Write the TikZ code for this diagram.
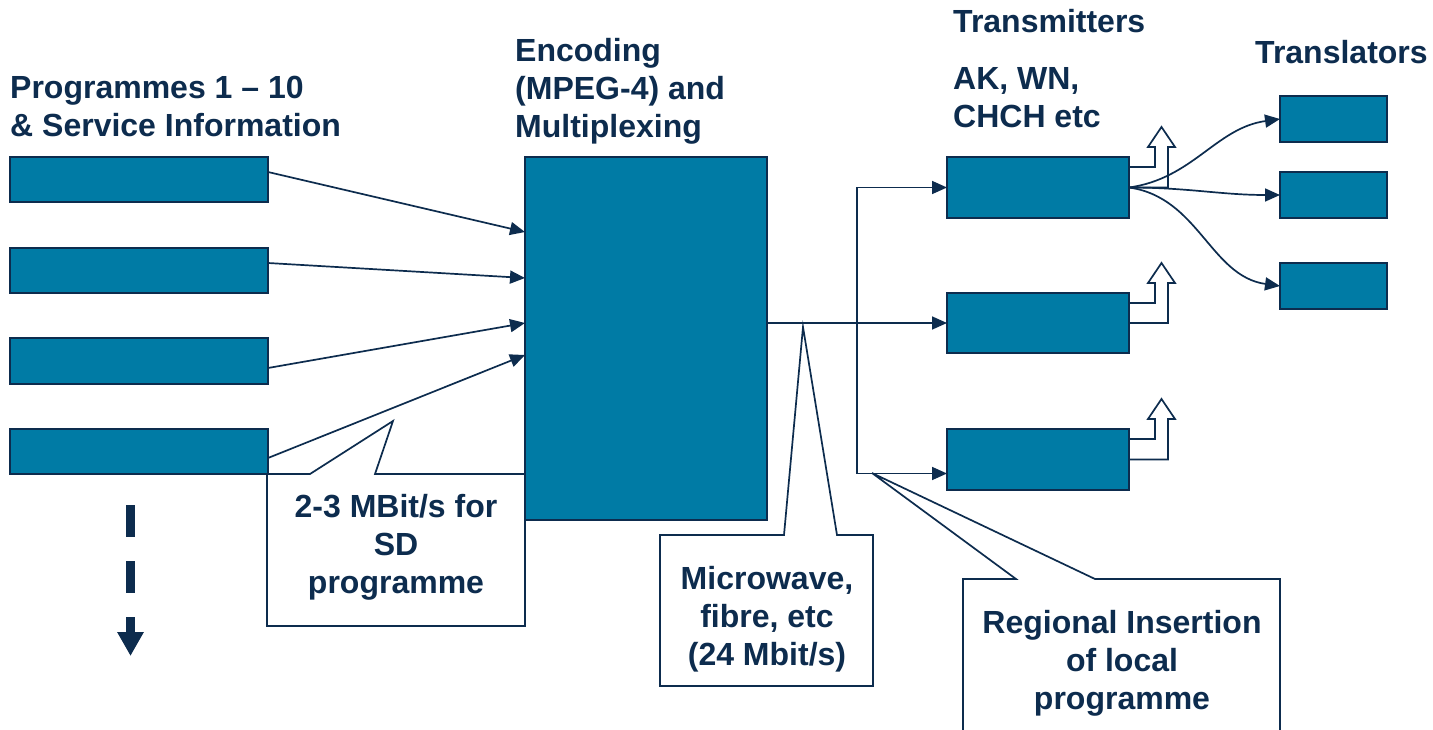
\documentclass[tikz,border=0pt]{standalone}
\usepackage{fontspec}
\setmainfont{Liberation Sans}
\usetikzlibrary{arrows.meta,calc}
\definecolor{navy}{HTML}{0D2C4E}
\definecolor{boxblue}{HTML}{007BA5}
\tikzset{
  blk/.style={draw=navy, fill=boxblue, line width=1.6pt, inner sep=0pt, outer sep=0pt, anchor=north west},
  lbl/.style={text=navy, font=\bfseries\fontsize{32}{38}\selectfont, inner sep=0pt},
  conn/.style={draw=navy, line width=1.7pt, -{Triangle[length=15pt,width=13pt]}},
  plain/.style={draw=navy, line width=1.7pt},
  callout/.style={draw=navy, line width=1.7pt, fill=white, line join=miter},
  antennaline/.style={draw=navy, line width=1.7pt, line join=miter}
}
\begin{document}
\begin{tikzpicture}[x=1pt,y=-1pt]
\useasboundingbox[fill=white] (0,0) rectangle (1433,730);

% callouts (behind boxes)
\draw[callout] (267,474) -- (310,474) -- (393,421) -- (375,474) -- (525,474) -- (525,626) -- (267,626) -- cycle;
\draw[callout] (660,535) -- (784,535) -- (803,327) -- (837,535) -- (873,535) -- (873,686) -- (660,686) -- cycle;
\draw[callout] (963,735) -- (963,579) -- (1016,579) -- (872,473) -- (1095,579) -- (1280,579) -- (1280,735);

% programme boxes
\node[blk, minimum width=258pt, minimum height=45pt] (p1) at (10,157) {};
\node[blk, minimum width=258pt, minimum height=45pt] (p2) at (10,248) {};
\node[blk, minimum width=258pt, minimum height=46pt] (p3) at (10,338) {};
\node[blk, minimum width=258pt, minimum height=45pt] (p4) at (10,429) {};

% encoder
\node[blk, minimum width=242pt, minimum height=363pt] (enc) at (525,157) {};

% transmitters
\node[blk, minimum width=182pt, minimum height=61pt] (t1) at (947,157) {};
\node[blk, minimum width=182pt, minimum height=60pt] (t2) at (947,293) {};
\node[blk, minimum width=182pt, minimum height=61pt] (t3) at (947,429) {};

% translators
\node[blk, minimum width=107pt, minimum height=46pt] (r1) at (1280,96) {};
\node[blk, minimum width=107pt, minimum height=46pt] (r2) at (1280,172) {};
\node[blk, minimum width=107pt, minimum height=46pt] (r3) at (1280,263) {};

% programme -> encoder
\draw[conn] ($(p1.north east)+(0,15)$) -- ($(enc.north west)+(0,75)$);
\draw[conn] ($(p2.north east)+(0,15)$) -- ($(enc.north west)+(0,121)$);
\draw[conn] ($(p3.north east)+(0,30)$) -- ($(enc.north west)+(0,166)$);
\draw[conn] ($(p4.north east)+(0,29)$) -- ($(enc.north west)+(0,198)$);

% encoder -> transmitters
\coordinate (br) at (857,323);
\draw[conn] (enc.east |- t2.west) -- (t2.west);
\draw[conn] (br) |- (t1.west);
\draw[conn] (br) |- ($(t3.west)+(0,14)$);

% antenna outputs
\foreach \t in {t1,t2,t3}{
  \draw[antennaline] ($(\t.north east)+(0,10)$) -- ++(26,0) -- ++(0,-20) -- ++(-7,0)
     -- ++(13.5,-20) -- ++(13.5,20) -- ++(-7,0) -- ($(\t.east)+(39,0)$) -- (\t.east);
}

% transmitter -> translators
\draw[conn] (t1.east) to[out=8,in=188] (r1.west);
\draw[conn] (t1.east) to[out=0,in=180] (r2.west);
\draw[conn] (t1.east) to[out=-8,in=172] (r3.west);

% more programmes
\coordinate (m1) at (130.5,505);
\coordinate (m2) at (130.5,656);
\draw[navy, line width=9pt, dash pattern=on 32pt off 24pt, -{Triangle[length=24pt,width=25pt]}] (m1) -- (m2);

% labels
\node[lbl, align=left, anchor=west] (lprog) at (10,106.5) {Programmes 1 – 10\\\& Service Information};
\node[lbl, align=left, anchor=west] (lenc) at (515,91) {Encoding\\(MPEG-4) and\\Multiplexing};
\node[lbl, anchor=west] (ltx) at (953,21) {Transmitters};
\node[lbl, align=left, anchor=west] (lsites) at (953,98) {AK, WN,\\CHCH etc};
\node[lbl, anchor=west] (ltr) at (1255,52) {Translators};

\node[lbl, align=center] (c1) at (396,547) {2-3 MBit/s for\\SD\\programme};
\node[lbl, align=center] (c2) at (767,619) {Microwave,\\fibre, etc\\(24 Mbit/s)};
\node[lbl, align=center] (c3) at (1122,663) {Regional Insertion\\of local\\programme};
\end{tikzpicture}
\end{document}
